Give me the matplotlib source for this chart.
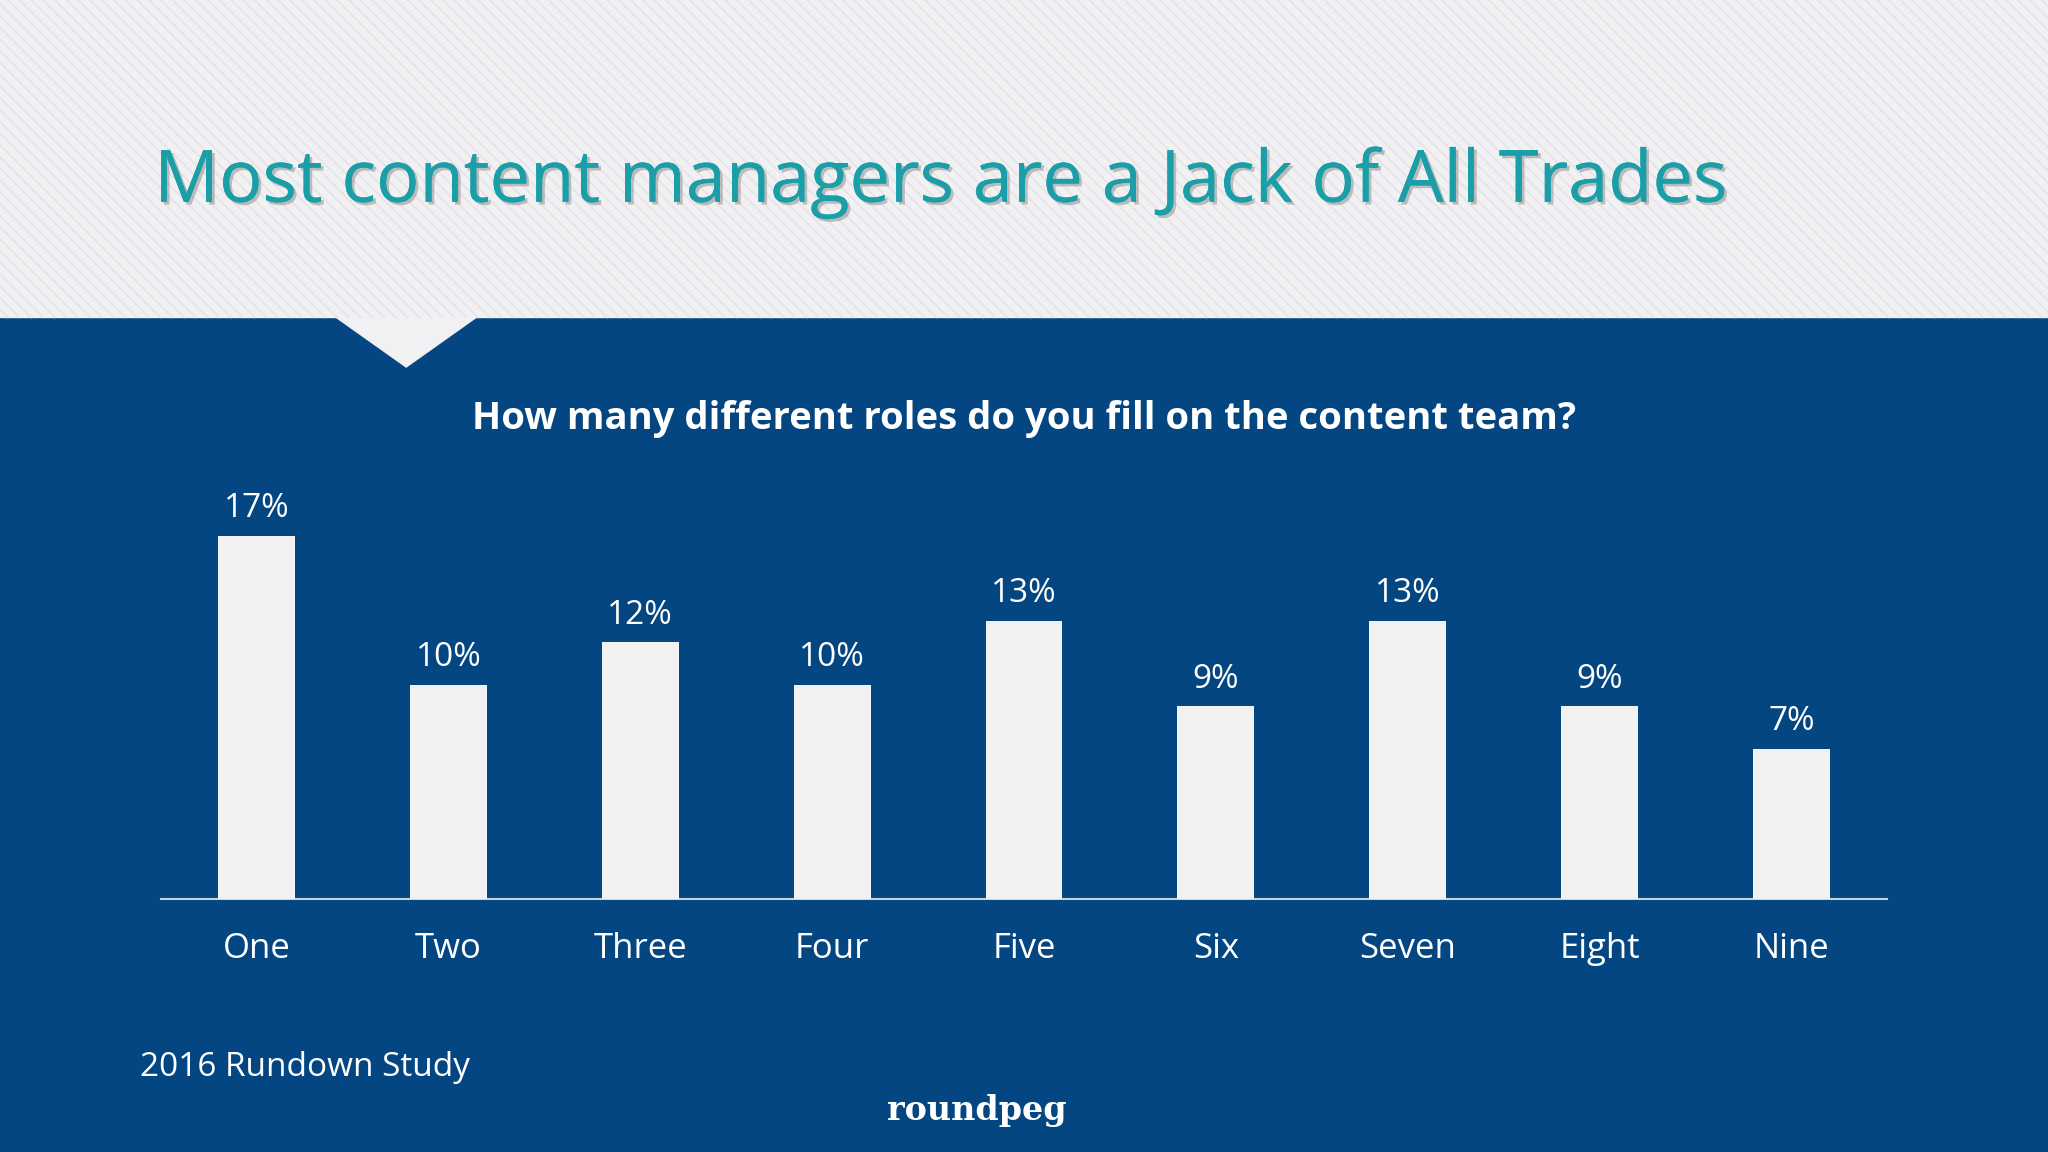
import matplotlib
matplotlib.use("Agg")
import matplotlib.pyplot as plt
import numpy as np
from matplotlib.patches import Polygon, Rectangle
import matplotlib.patheffects as pe

categories = ["One", "Two", "Three", "Four", "Five", "Six", "Seven", "Eight", "Nine"]
values = [17, 10, 12, 10, 13, 9, 13, 9, 7]
labels = ["17%", "10%", "12%", "10%", "13%", "9%", "13%", "9%", "7%"]

W, H = 1568, 882
fig = plt.figure(figsize=(20.48, 11.52), dpi=100)
bg = fig.add_axes([0, 0, 1, 1])
bg.set_xlim(0, W); bg.set_ylim(H, 0); bg.axis("off")
bg.add_patch(Rectangle((0, 243), W, H - 243, color="#034681", zorder=0))
bg.add_patch(Rectangle((0, 0), W, 243, color="#f1f1f3", zorder=1))
bg.add_patch(Polygon([(256, 242), (366, 242), (311, 281)], color="#f1f1f3", zorder=1))
for x0 in np.arange(-300, W + 300, 9):
    bg.plot([x0, x0 + 243], [0, 243], color="#e4e4e8", lw=1.2, zorder=1.5)
bg.text(118, 140, "Most content managers are a Jack of All Trades", fontsize=52,
        family="Open Sans", color="#1a9ea8", va="center", ha="left", zorder=3,
        path_effects=[pe.withSimplePatchShadow(offset=(2, -2), shadow_rgbFace="#888888", alpha=0.5), pe.Normal()])
bg.text(784, 321, "How many different roles do you fill on the content team?", fontsize=27.5,
        family="Open Sans", weight="bold", color="white", ha="center", va="center", zorder=3)
bg.text(107, 817, "2016 Rundown Study", fontsize=24, family="Open Sans", color="white",
        ha="left", va="center", zorder=3)
bg.text(748, 850, "roundpeg", fontsize=24, family="DejaVu Serif", weight="bold", color="white",
        ha="center", va="center", zorder=3)

ax = fig.add_axes([123 / W, 1 - 688 / H, (1445 - 123) / W, (688 - 361) / H])
ax.set_facecolor("none")
x = np.arange(len(categories))
ax.bar(x, values, width=0.4, color="#f2f1f1", zorder=3)
for xi, v, l in zip(x, values, labels):
    ax.text(xi, v + 0.5, l, ha="center", va="bottom", fontsize=24, family="Open Sans", color="white")
ax.set_xlim(-0.5, 8.5); ax.set_ylim(0, 20)
ax.set_xticks(x); ax.set_xticklabels(categories, fontsize=25, family="Open Sans", color="white")
ax.tick_params(axis="x", length=0, pad=24)
ax.set_yticks([])
for s in ["top", "right", "left"]:
    ax.spines[s].set_visible(False)
ax.spines["bottom"].set_color("#c9d3e0"); ax.spines["bottom"].set_linewidth(1.5)
fig.savefig("out.png", dpi=100)
